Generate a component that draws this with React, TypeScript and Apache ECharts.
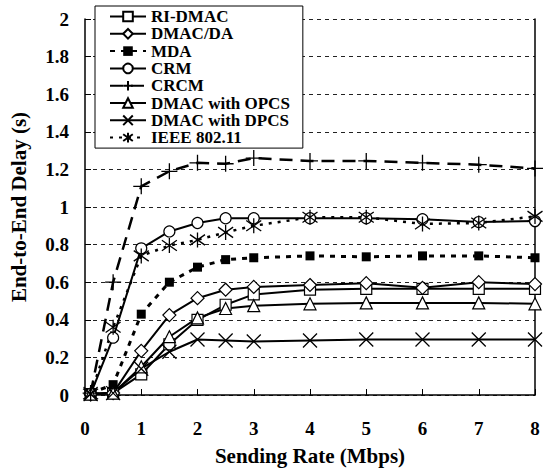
import React, { useEffect, useRef } from "react";
import * as echarts from "echarts";

const xValues = [0.1, 0.5, 1, 1.5, 2, 2.5, 3, 4, 5, 6, 7, 8];
const riDmac = [0.005, 0.01, 0.11, 0.27, 0.4, 0.48, 0.535, 0.56, 0.565, 0.565, 0.565, 0.565];
const dmacDa = [0.005, 0.01, 0.235, 0.425, 0.515, 0.56, 0.575, 0.585, 0.595, 0.57, 0.6, 0.59];
const mda = [0.01, 0.055, 0.43, 0.6, 0.68, 0.72, 0.73, 0.74, 0.735, 0.74, 0.74, 0.73];
const crm = [0.005, 0.305, 0.78, 0.87, 0.915, 0.94, 0.94, 0.94, 0.94, 0.935, 0.92, 0.925];
const crcm = [0.01, 0.6, 1.11, 1.19, 1.235, 1.23, 1.26, 1.245, 1.245, 1.235, 1.225, 1.205];
const opcs = [0.005, 0.01, 0.15, 0.31, 0.41, 0.46, 0.475, 0.485, 0.49, 0.49, 0.49, 0.485];
const dpcs = [0.005, 0.01, 0.14, 0.23, 0.295, 0.29, 0.285, 0.29, 0.295, 0.295, 0.295, 0.295];
const ieee = [0.005, 0.36, 0.74, 0.795, 0.825, 0.865, 0.9, 0.945, 0.945, 0.91, 0.915, 0.95];

const seriesNames = [
  "RI-DMAC",
  "DMAC/DA",
  "MDA",
  "CRM",
  "CRCM",
  "DMAC with OPCS",
  "DMAC with DPCS",
  "IEEE 802.11",
];

const FONT = "Liberation Serif";

const PLUS = "path://M0,5L10,5M5,0L5,10";
const CROSS = "path://M0,0L10,10M10,0L0,10";
const STAR = "path://M5,0L5,10M1,1.5L9,8.5M9,1.5L1,8.5";

function pairs(ys: number[]) {
  return xValues.map((x, i) => [x, ys[i]]);
}

export default function App() {
  const ref = useRef<HTMLDivElement>(null);
  useEffect(() => {
    if (!ref.current) return;
    document.body.style.margin = "0";
    const chart = echarts.init(ref.current, undefined, { renderer: "svg" });

    const hollow = { color: "#fff", borderColor: "#000", borderWidth: 1.2 };
    const strokeOnly = { color: "none", borderColor: "#000", borderWidth: 1.3 };

    const mk = (
      name: string,
      data: number[],
      symbol: string,
      symbolSize: number,
      itemStyle: any,
      lineStyle: any
    ) => ({
      name,
      type: "line",
      data: pairs(data),
      symbol,
      symbolSize,
      showSymbol: true,
      itemStyle,
      lineStyle: { color: "#000", ...lineStyle },
      emphasis: { disabled: true },
      z: 3,
    });

    chart.setOption({
      animation: false,
      color: ["#000"],
      textStyle: { fontFamily: FONT },
      grid: { left: 84, right: 12, top: 19, bottom: 72 },
      legend: {
        orient: "vertical",
        left: 95,
        top: 6,
        backgroundColor: "#fff",
        borderColor: "#000",
        borderWidth: 1,
        borderRadius: 0,
        padding: [2, 13, 2, 14],
        itemWidth: 36,
        itemHeight: 12,
        itemGap: 0.3,
        data: seriesNames,
        textStyle: {
          fontFamily: FONT,
          fontWeight: "bold",
          fontSize: 17,
          color: "#000",
        },
      },
      xAxis: {
        type: "value",
        min: 0,
        max: 8,
        interval: 1,
        name: "Sending Rate (Mbps)",
        nameLocation: "middle",
        nameGap: 50,
        nameTextStyle: { fontFamily: FONT, fontWeight: "bold", fontSize: 21, color: "#000" },
        axisLine: { show: true, lineStyle: { color: "#000", width: 1.5 } },
        axisTick: { show: true, inside: true, length: 6, lineStyle: { color: "#000" } },
        axisLabel: {
          fontFamily: FONT,
          fontWeight: "bold",
          fontSize: 19,
          color: "#000",
          margin: 24,
        },
        splitLine: { show: false },
      },
      yAxis: [
        {
          type: "value",
          min: 0,
          max: 2,
          interval: 0.2,
          name: "End-to-End Delay (s)",
          nameLocation: "middle",
          nameGap: 56,
          nameTextStyle: { fontFamily: FONT, fontWeight: "bold", fontSize: 21, color: "#000" },
          axisLine: { show: true, lineStyle: { color: "#000", width: 1.5 } },
          axisTick: { show: true, inside: true, length: 6, lineStyle: { color: "#000" } },
          axisLabel: {
            fontFamily: FONT,
            fontWeight: "bold",
            fontSize: 19,
            color: "#000",
            margin: 16,
          },
          splitLine: {
            show: true,
            lineStyle: { color: "#222", width: 1, type: [4, 4] },
          },
        },
        {
          type: "value",
          min: 0,
          max: 2,
          interval: 0.2,
          position: "right",
          axisLine: { show: true, lineStyle: { color: "#000", width: 1.5 } },
          axisTick: { show: false },
          axisLabel: { show: false },
          splitLine: { show: false },
        },
      ],
      series: [
        mk(seriesNames[0], riDmac, "rect", 11, hollow, { width: 2, type: "solid" }),
        mk(seriesNames[1], dmacDa, "diamond", 13, hollow, { width: 2, type: "solid" }),
        mk(seriesNames[2], mda, "rect", 9, { color: "#000", borderColor: "#000", borderWidth: 0 }, { width: 3, type: [5, 6] }),
        mk(seriesNames[3], crm, "circle", 11, hollow, { width: 2, type: "solid" }),
        mk(seriesNames[4], crcm, PLUS, 16, strokeOnly, { width: 2.5, type: [13, 8] }),
        mk(seriesNames[5], opcs, "triangle", 12, hollow, { width: 2, type: "solid" }),
        mk(seriesNames[6], dpcs, CROSS, 14, strokeOnly, { width: 2, type: "solid" }),
        mk(seriesNames[7], ieee, STAR, 15, strokeOnly, { width: 2.5, type: [3, 6] }),
      ],
    });
    return () => chart.dispose();
  }, []);
  return <div ref={ref} style={{ width: 547, height: 471 }} />;
}
